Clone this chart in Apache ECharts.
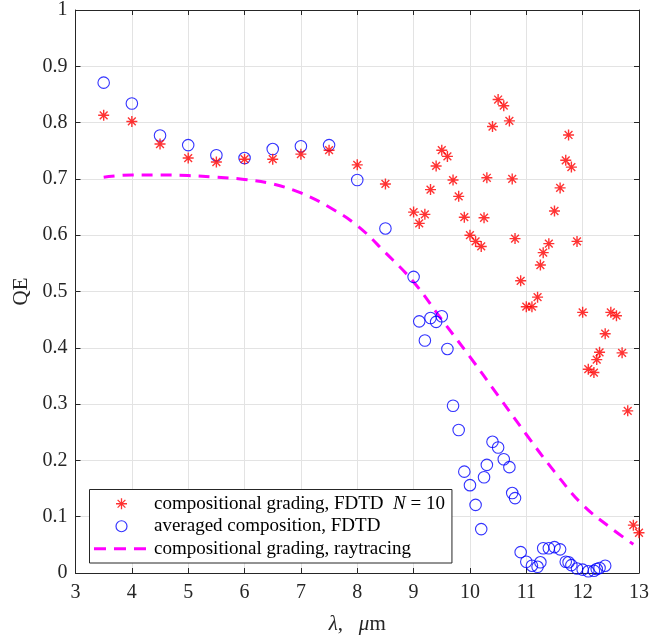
<!DOCTYPE html>
<html><head><meta charset="utf-8">
<script src="https://cdn.jsdelivr.net/npm/echarts@6/dist/echarts.min.js"></script>
<style>html,body{margin:0;padding:0;background:#fff}#c{width:652px;height:640px}</style>
</head><body><div id="c"></div>
<script>
// Compositional grading, FDTD N = 10 (red stars)
const gradX = [3.5,4,4.5,5,5.5,6,6.5,7,7.5,8,8.5,9.0,9.1,9.2,9.3,9.4,9.5,9.6,9.7,9.8,9.9,10.0,10.1,10.2,10.25,10.3,10.4,10.5,10.6,10.7,10.75,10.8,10.9,11.0,11.1,11.2,11.25,11.3,11.4,11.5,11.6,11.7,11.75,11.8,11.9,12.0,12.1,12.2,12.25,12.3,12.4,12.5,12.6,12.7,12.8,12.9,13.0];
const gradY = [0.813,0.802,0.762,0.737,0.730,0.735,0.735,0.744,0.751,0.725,0.691,0.641,0.621,0.637,0.681,0.723,0.751,0.740,0.698,0.669,0.632,0.600,0.589,0.580,0.631,0.702,0.793,0.841,0.830,0.803,0.700,0.594,0.519,0.473,0.473,0.490,0.547,0.569,0.585,0.643,0.684,0.733,0.778,0.721,0.589,0.463,0.362,0.356,0.379,0.392,0.425,0.463,0.457,0.391,0.288,0.085,0.0715];
// Averaged composition, FDTD (blue circles)
const avgX = [3.5,4,4.5,5,5.5,6,6.5,7,7.5,8,8.5,9.0,9.1,9.2,9.3,9.4,9.5,9.6,9.7,9.8,9.9,10.0,10.1,10.2,10.25,10.3,10.4,10.5,10.6,10.7,10.75,10.8,10.9,11.0,11.1,11.2,11.25,11.3,11.4,11.5,11.6,11.7,11.75,11.8,11.9,12.0,12.1,12.2,12.25,12.3,12.4];
const avgY = [0.871,0.834,0.777,0.760,0.742,0.737,0.753,0.758,0.760,0.698,0.612,0.526,0.447,0.413,0.453,0.446,0.456,0.398,0.297,0.254,0.180,0.156,0.121,0.078,0.170,0.192,0.233,0.223,0.202,0.188,0.142,0.133,0.037,0.020,0.013,0.011,0.019,0.044,0.044,0.046,0.042,0.020,0.019,0.014,0.008,0.006,0.003,0.004,0.007,0.009,0.013];
// Compositional grading, raytracing (dashed magenta)
const rayX = [3.5,4,4.5,5,5.5,6,6.5,7,7.5,8,8.5,9,9.5,10,10.5,11,11.5,12,12.5,12.9];
const rayY = [0.703,0.707,0.707,0.706,0.703,0.699,0.691,0.675,0.650,0.617,0.569,0.517,0.450,0.384,0.315,0.246,0.180,0.121,0.080,0.051];
const xTicks = [3,4,5,6,7,8,9,10,11,12,13];
const yTicks = [0,0.1,0.2,0.3,0.4,0.5,0.6,0.7,0.8,0.9,1];

const names = ['compositional grading, FDTD  N = 10','averaged composition, FDTD','compositional grading, raytracing'];
const zip = (a,b)=>a.map((v,i)=>[v,b[i]]);
const FONT = 'Liberation Serif';
const AX = '#262626';
const STAR = 'path://M0,5L10,5M5,0L5,10M1.46,1.46L8.54,8.54M8.54,1.46L1.46,8.54';

const chart = echarts.init(document.getElementById('c'), null, {renderer:'canvas'});
const baseX = {type:'value', min:xTicks[0], max:xTicks[xTicks.length-1], interval:1};
const baseY = {type:'value', min:yTicks[0], max:yTicks[yTicks.length-1], interval:0.1};
const rich = {i:{fontStyle:'italic',fontSize:21,fontFamily:FONT,color:AX}, n:{fontSize:21,fontFamily:FONT,color:AX}};
chart.setOption({
  animation:false,
  backgroundColor:'#fff',
  textStyle:{fontFamily:FONT},
  grid:{left:75.5, right:10.5, top:10, bottom:63.5, containLabel:false},
  xAxis:[
    Object.assign({}, baseX, {position:'bottom',
      axisLine:{show:true, onZero:false, lineStyle:{color:AX, width:1}},
      axisTick:{show:true, inside:true, length:5, lineStyle:{color:AX}},
      axisLabel:{color:AX, fontSize:20, fontFamily:FONT, margin:10},
      splitLine:{show:true, lineStyle:{color:'#e3e3e3', width:1}},
      name:'{i|λ}{n|,   }{i|μ}{n|m}', nameLocation:'middle', nameGap:41,
      nameTextStyle:{fontFamily:FONT, fontSize:21, color:AX, rich:rich}
    }),
    Object.assign({}, baseX, {position:'top',
      axisLine:{show:true, onZero:false, lineStyle:{color:AX, width:1}},
      axisTick:{show:true, inside:true, length:5, lineStyle:{color:AX}},
      axisLabel:{show:false}, splitLine:{show:false}})
  ],
  yAxis:[
    Object.assign({}, baseY, {position:'left',
      axisLine:{show:true, onZero:false, lineStyle:{color:AX, width:1}},
      axisTick:{show:true, inside:true, length:5, lineStyle:{color:AX}},
      axisLabel:{color:AX, fontSize:20, fontFamily:FONT, margin:8},
      splitLine:{show:true, lineStyle:{color:'#e3e3e3', width:1}},
      name:'QE', nameLocation:'middle', nameGap:41,
      nameTextStyle:{fontFamily:FONT, fontSize:21, color:AX}
    }),
    Object.assign({}, baseY, {position:'right',
      axisLine:{show:true, onZero:false, lineStyle:{color:AX, width:1}},
      axisTick:{show:true, inside:true, length:5, lineStyle:{color:AX}},
      axisLabel:{show:false}, splitLine:{show:false}})
  ],
  legend:{
    orient:'vertical', left:89.5, top:489.5,
    backgroundColor:'#fff', borderColor:AX, borderWidth:1, borderRadius:0,
    padding:[3,7,3,3], itemWidth:55, itemHeight:11, itemGap:0,
    textStyle:{fontFamily:FONT, fontSize:19, color:'#000', lineHeight:22.5,
      rich:{a:{fontFamily:FONT,fontSize:19,color:'#000',lineHeight:22.5}, i:{fontFamily:FONT,fontSize:19,fontStyle:'italic',color:'#000',lineHeight:22.5}}},
    formatter:function(n){ if(n===names[0]) return '{a|compositional grading, FDTD  }{i|N}{a| = 10}'; return '{a|'+n+'}'; },
    data:[
      {name:names[0], icon:STAR, itemStyle:{color:'transparent', borderColor:'#ff0000', borderWidth:1.3}},
      {name:names[1], icon:'circle', itemStyle:{color:'transparent', borderColor:'#0000ff', borderWidth:1.2}},
      {name:names[2], itemStyle:{opacity:0}, lineStyle:{color:'#ff00ff', width:3, type:[12,8]}}
    ]
  },
  series:[
    {name:names[2], type:'line', data:zip(rayX,rayY), smooth:0.4, showSymbol:false, symbol:'none',
      lineStyle:{color:'#ff00ff', width:3, type:[11,8]}, itemStyle:{color:'#ff00ff'}, z:2},
    {name:names[1], type:'scatter', data:zip(avgX,avgY), symbol:'circle', symbolSize:11.5,
      itemStyle:{color:'transparent', borderColor:'#0000ff', borderWidth:1.1}, z:3},
    {name:names[0], type:'scatter', data:zip(gradX,gradY), symbol:STAR, symbolSize:11, symbolKeepAspect:true,
      itemStyle:{color:'transparent', borderColor:'#ff0000', borderWidth:1.4}, z:4}
  ]
});
</script></body></html>
